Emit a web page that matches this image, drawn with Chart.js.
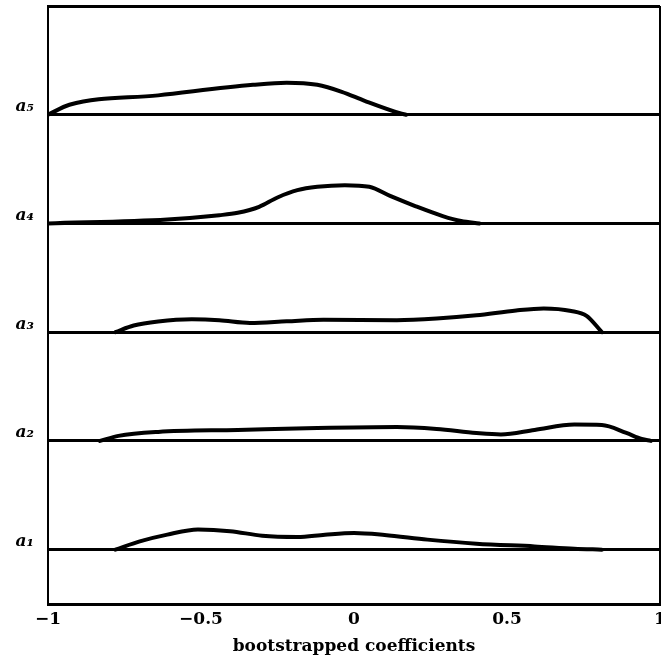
<!DOCTYPE html>
<html>
<head>
<meta charset="utf-8">
<script src="https://cdn.jsdelivr.net/npm/chart.js@4/dist/chart.umd.min.js"></script>
<style>
  html, body { margin: 0; padding: 0; background: #fff; }
  #wrap { width: 661px; height: 665px; position: relative; }
</style>
</head>
<body>
<div id="wrap"><canvas id="c"></canvas></div>
<script>
// Panel labels (bottom to top) and their baselines on the stacked y scale
const categories = ['a\u2081', 'a\u2082', 'a\u2083', 'a\u2084', 'a\u2085'];
const baselines = [0.5, 1.5, 2.5, 3.5, 4.5];
const yTop = 5.5;

// x-axis ticks
const xTicks = [-1, -0.5, 0, 0.5, 1];
const xTickLabels = ['\u22121', '\u22120.5', '0', '0.5', '1'];

// Density curves (x = coefficient, y = density height above the panel baseline)
const a1X = [-0.78, -0.70, -0.61, -0.51, -0.405, -0.30, -0.185, -0.095, 0.00, 0.10, 0.24, 0.40, 0.59, 0.72, 0.81];
const a1Y = [0, 0.076, 0.138, 0.185, 0.170, 0.128, 0.117, 0.138, 0.153, 0.135, 0.092, 0.055, 0.030, 0.009, 0];

const a2X = [-0.83, -0.77, -0.64, -0.38, -0.12, 0.14, 0.27, 0.40, 0.48, 0.59, 0.72, 0.81, 0.89, 0.94, 0.97];
const a2Y = [0, 0.046, 0.083, 0.101, 0.119, 0.128, 0.110, 0.073, 0.060, 0.101, 0.150, 0.147, 0.073, 0.018, 0];

const a3X = [-0.78, -0.72, -0.64, -0.53, -0.44, -0.34, -0.22, -0.10, 0.14, 0.27, 0.40, 0.53, 0.62, 0.71, 0.76, 0.81];
const a3Y = [0, 0.061, 0.098, 0.118, 0.110, 0.085, 0.100, 0.115, 0.110, 0.125, 0.155, 0.200, 0.218, 0.195, 0.150, 0];

const a4X = [-1, -0.61, -0.44, -0.38, -0.31, -0.25, -0.185, -0.12, -0.03, 0.05, 0.12, 0.20, 0.29, 0.35, 0.41];
const a4Y = [0, 0.037, 0.076, 0.098, 0.153, 0.239, 0.306, 0.337, 0.352, 0.337, 0.251, 0.160, 0.068, 0.022, 0];

const a5X = [-1, -0.93, -0.64, -0.33, -0.22, -0.12, -0.04, 0.035, 0.15, 0.17];
const a5Y = [0, 0.092, 0.178, 0.275, 0.295, 0.275, 0.211, 0.128, 0.014, 0];

const seriesX = [a1X, a2X, a3X, a4X, a5X];
const seriesY = [a1Y, a2Y, a3Y, a4Y, a5Y];

const datasets = seriesX.map((xs, i) => ({
  label: categories[i],
  data: xs.map((x, j) => ({ x: x, y: baselines[i] + seriesY[i][j] })),
  borderColor: '#000',
  borderWidth: 4,
  pointRadius: 0,
  fill: false,
  cubicInterpolationMode: 'monotone',
  borderCapStyle: 'round',
  borderJoinStyle: 'round'
}));

const yTickValues = [0].concat(baselines, [yTop]);

new Chart(document.getElementById('c'), {
  type: 'line',
  data: { datasets: datasets },
  options: {
    responsive: true,
    maintainAspectRatio: false,
    animation: false,
    layout: { padding: { top: 6, right: 1, left: 0, bottom: 8 } },
    plugins: { legend: { display: false }, tooltip: { enabled: false } },
    scales: {
      x: {
        type: 'linear',
        min: -1,
        max: 1,
        afterBuildTicks: (s) => { s.ticks = xTicks.map(v => ({ value: v })); },
        afterFit: (s) => { s.paddingLeft = 0; s.paddingRight = 0; s.height = 53; },
        ticks: {
          color: '#000',
          padding: 5,
          maxRotation: 0,
          autoSkip: false,
          font: { family: 'DejaVu Serif', size: 17, weight: 'bold' },
          callback: (v) => { const i = xTicks.indexOf(v); return i >= 0 ? xTickLabels[i] : ''; }
        },
        grid: {
          drawTicks: false,
          color: (ctx) => (ctx.tick && ctx.tick.value === 1 ? '#000' : 'rgba(0,0,0,0)'),
          lineWidth: 2
        },
        border: { display: true, color: '#000', width: 3 },
        title: {
          display: true,
          text: 'bootstrapped coefficients',
          color: '#000',
          padding: { top: 4, bottom: 0 },
          font: { family: 'DejaVu Serif', size: 17, weight: 'bold' }
        }
      },
      y: {
        type: 'linear',
        min: 0,
        max: yTop,
        afterBuildTicks: (s) => { s.ticks = yTickValues.map(v => ({ value: v })); },
        afterFit: (s) => { s.width = 48; s.paddingTop = 0; s.paddingBottom = 0; },
        ticks: {
          color: '#000',
          padding: 14,
          labelOffset: -8,
          autoSkip: false,
          font: { family: 'DejaVu Serif', size: 17, style: 'italic', weight: 'bold' },
          callback: (v) => { const i = baselines.indexOf(v); return i >= 0 ? categories[i] : ''; }
        },
        grid: {
          drawTicks: false,
          color: (ctx) => (ctx.tick && ctx.tick.value > 0 ? '#000' : 'rgba(0,0,0,0)'),
          lineWidth: 3
        },
        border: { display: true, color: '#000', width: 2 }
      }
    }
  }
});
</script>
</body>
</html>
